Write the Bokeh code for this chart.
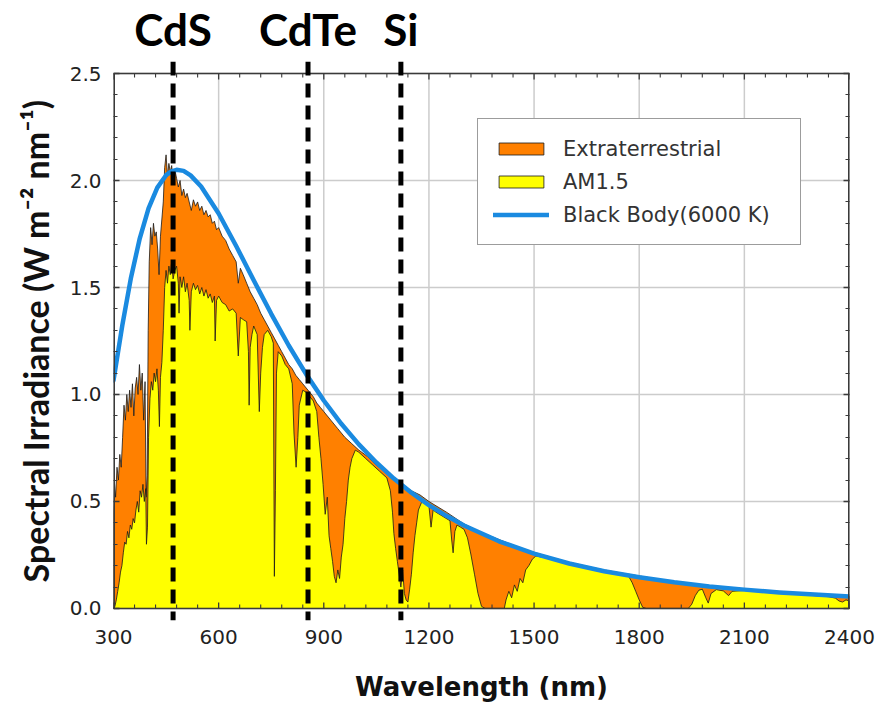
from bokeh.plotting import figure
from bokeh.layouts import column
from bokeh.models import (LinearAxis, FixedTicker, NumeralTickFormatter,
                          Legend, LegendItem, Range1d)
from bokeh.core.properties import value
from bokeh.embed import file_html
from bokeh.resources import INLINE

# ---- axis ticks -----------------------------------------------------------
x_ticks = [300, 600, 900, 1200, 1500, 1800, 2100, 2400]
y_ticks = [0.0, 0.5, 1.0, 1.5, 2.0, 2.5]

# ---- extraterrestrial (AM0) spectrum, W m-2 nm-1 ---------------------------
am0_nm = [300, 303, 306, 310, 314, 318, 322, 326, 330, 334, 338, 342, 346, 350,
          354, 358, 362, 366, 370, 374, 378, 382, 386, 390, 393, 396, 399, 402,
          406, 410, 414, 418, 422, 426, 430, 434, 438, 442, 446, 450, 454, 458,
          462, 466, 470, 475, 480, 485, 490, 495, 500, 505, 510, 516, 522, 528,
          534, 540, 546, 552, 558, 564, 570, 576, 582, 588, 594, 600, 610, 620,
          630, 640, 650, 656, 662, 670, 680, 690, 700, 710, 720, 730, 740, 750,
          760, 770, 780, 790, 800, 810, 820, 830, 840, 850, 860, 870, 880, 890,
          900, 920, 940, 960, 980, 1000, 1025, 1050, 1075, 1100, 1125, 1150,
          1175, 1200, 1250, 1300, 1350, 1400, 1450, 1500, 1550, 1600, 1650,
          1700, 1750, 1800, 1850, 1900, 1950, 2000, 2100, 2200, 2300, 2400]
am0_val = [0.45, 0.58, 0.52, 0.66, 0.60, 0.72, 0.66, 0.80, 0.95, 0.88, 1.00, 0.92,
           1.02, 0.94, 1.05, 0.90, 1.03, 1.08, 1.00, 1.14, 1.02, 1.10, 0.88, 1.06,
           0.52, 0.62, 1.30, 1.62, 1.78, 1.70, 1.80, 1.74, 1.76, 1.68, 1.56, 1.74,
           1.82, 1.90, 2.06, 2.12, 2.02, 2.08, 2.04, 2.07, 2.00, 2.05, 2.01, 1.97,
           2.00, 1.93, 1.96, 1.92, 1.94, 1.90, 1.86, 1.91, 1.88, 1.90, 1.86, 1.88,
           1.84, 1.86, 1.83, 1.84, 1.80, 1.81, 1.77, 1.78, 1.74, 1.72, 1.68, 1.65,
           1.62, 1.52, 1.59, 1.56, 1.52, 1.48, 1.45, 1.42, 1.38, 1.35, 1.32, 1.29,
           1.26, 1.23, 1.20, 1.17, 1.14, 1.12, 1.09, 1.07, 1.05, 1.03, 1.01, 0.99,
           0.96, 0.94, 0.92, 0.88, 0.84, 0.80, 0.77, 0.74, 0.71, 0.67, 0.64, 0.61,
           0.58, 0.55, 0.53, 0.50, 0.45, 0.395, 0.355, 0.322, 0.29, 0.262, 0.238,
           0.216, 0.197, 0.18, 0.165, 0.152, 0.138, 0.126, 0.115, 0.105, 0.089,
           0.076, 0.065, 0.056]

# ---- terrestrial AM1.5 spectrum, W m-2 nm-1 ---------------------------------
am15_nm = [300, 304, 308, 312, 316, 320, 324, 328, 332, 336, 340, 344, 348, 352,
           356, 360, 364, 368, 372, 376, 380, 384, 388, 392, 394, 397, 400, 404,
           408, 412, 416, 420, 424, 428, 431, 434, 438, 442, 446, 450, 454, 458,
           462, 466, 470, 475, 480, 485, 487, 490, 495, 500, 505, 510, 516, 518,
           522, 528, 534, 540, 546, 552, 558, 564, 570, 576, 582, 588, 590, 594,
           600, 610, 620, 630, 640, 650, 656, 662, 670, 680, 685, 687, 690, 695,
           700, 710, 716, 720, 725, 730, 740, 750, 756, 759, 762, 765, 770, 780,
           790, 800, 810, 815, 821, 826, 830, 840, 850, 860, 870, 880, 886, 892,
           898, 904, 910, 915, 920, 925, 930, 935, 940, 945, 950, 955, 960, 965,
           970, 975, 980, 990, 1000, 1020, 1040, 1060, 1080, 1090, 1096, 1100,
           1105, 1110, 1115, 1120, 1125, 1130, 1135, 1140, 1145, 1150, 1155, 1160,
           1165, 1170, 1180, 1190, 1200, 1206, 1212, 1220, 1240, 1260, 1265, 1269,
           1274, 1280, 1290, 1300, 1310, 1320, 1330, 1340, 1350, 1360, 1415, 1420,
           1428, 1436, 1444, 1452, 1460, 1468, 1476, 1485, 1495, 1505, 1550, 1600,
           1650, 1700, 1750, 1770, 1780, 1790, 1800, 1810, 1820, 1940, 1950, 1960,
           1970, 1980, 1990, 1997, 2005, 2020, 2040, 2055, 2065, 2100, 2150, 2200,
           2250, 2300, 2340, 2360, 2370, 2380, 2390, 2400]
am15_val = [0.00, 0.01, 0.04, 0.08, 0.12, 0.17, 0.20, 0.26, 0.31, 0.30, 0.36, 0.33,
            0.39, 0.37, 0.42, 0.40, 0.46, 0.50, 0.45, 0.55, 0.52, 0.58, 0.50, 0.56,
            0.30, 0.38, 0.80, 0.98, 1.06, 1.02, 1.10, 1.06, 1.12, 1.02, 0.85, 1.08,
            1.15, 1.30, 1.50, 1.58, 1.52, 1.60, 1.56, 1.62, 1.54, 1.58, 1.60, 1.52,
            1.38, 1.55, 1.50, 1.55, 1.48, 1.52, 1.44, 1.30, 1.48, 1.52, 1.49, 1.51,
            1.47, 1.50, 1.46, 1.49, 1.45, 1.47, 1.43, 1.46, 1.25, 1.44, 1.46, 1.43,
            1.42, 1.39, 1.40, 1.38, 1.18, 1.36, 1.35, 1.34, 1.20, 0.95, 1.22, 1.28,
            1.32, 1.28, 0.92, 1.10, 1.22, 1.28, 1.30, 1.27, 1.24, 0.15, 0.55, 1.10,
            1.20, 1.18, 1.14, 1.12, 1.05, 0.82, 0.66, 0.80, 0.95, 1.02, 1.01, 0.99,
            0.97, 0.92, 0.80, 0.70, 0.58, 0.44, 0.52, 0.34, 0.28, 0.22, 0.15, 0.12,
            0.18, 0.14, 0.24, 0.30, 0.42, 0.50, 0.60, 0.66, 0.70, 0.74, 0.73, 0.70,
            0.67, 0.64, 0.61, 0.55, 0.45, 0.35, 0.28, 0.22, 0.16, 0.10, 0.18, 0.07,
            0.04, 0.03, 0.09, 0.16, 0.26, 0.34, 0.40, 0.46, 0.50, 0.49, 0.48, 0.38,
            0.46, 0.45, 0.43, 0.41, 0.32, 0.26, 0.36, 0.39, 0.38, 0.37, 0.33, 0.25,
            0.16, 0.07, 0.01, 0.0, 0.0, 0.04, 0.08, 0.05, 0.11, 0.08, 0.14, 0.12,
            0.18, 0.20, 0.23, 0.245, 0.232, 0.212, 0.193, 0.176, 0.162, 0.15, 0.12,
            0.08, 0.04, 0.005, 0.0, 0.0, 0.02, 0.06, 0.085, 0.09, 0.05, 0.025, 0.07,
            0.088, 0.082, 0.06, 0.08, 0.084, 0.078, 0.072, 0.066, 0.060, 0.055,
            0.048, 0.035, 0.03, 0.04, 0.035]

# ---- 6000 K black body, scaled to the solar peak ---------------------------
bb_nm = [300, 325, 350, 375, 400, 425, 450, 465, 480, 500, 520, 550, 600, 650,
         700, 750, 800, 850, 900, 950, 1000, 1050, 1100, 1150, 1200, 1250, 1300,
         1400, 1500, 1600, 1700, 1800, 1900, 2000, 2100, 2200, 2300, 2400]
bb_val = [1.066, 1.322, 1.547, 1.730, 1.870, 1.967, 2.025, 2.043, 2.050, 2.045,
          2.024, 1.972, 1.846, 1.694, 1.534, 1.377, 1.229, 1.094, 0.972, 0.863,
          0.767, 0.682, 0.607, 0.541, 0.483, 0.433, 0.388, 0.314, 0.256, 0.210,
          0.174, 0.146, 0.122, 0.103, 0.088, 0.075, 0.065, 0.056]

# ---- absorber band-gap markers --------------------------------------------
gap_names = ["CdS", "CdTe", "Si"]
gap_nm = [470, 855, 1120]

AXIS = "#3a3a3a"
TEXT = "#222222"
HEAD_H = 56          # height of the strip holding the material names
PAD = 0.0563         # the frame reaches a little past the box so the markers overhang

x0, x1 = x_ticks[0], x_ticks[-1]
y0, y1 = y_ticks[0], y_ticks[-1]

# ---------------------------------------------------------------- main plot
p = figure(width=878, height=705 - HEAD_H, output_backend="svg", title=None,
           toolbar_location=None, x_range=Range1d(x0, x1),
           y_range=Range1d(y0 - PAD, y1 + PAD),
           min_border_left=113, min_border_right=29, min_border_top=5,
           min_border_bottom=85)
p.background_fill_color = "white"
p.border_fill_color = "white"
p.outline_line_color = None

x_minor = [t + k * 60 for t in x_ticks[:-1] for k in range(1, 5)]
y_minor = [round(t + k * 0.1, 2) for t in y_ticks[:-1] for k in range(1, 5)]
xticker = FixedTicker(ticks=x_ticks, minor_ticks=x_minor)
yticker = FixedTicker(ticks=y_ticks, minor_ticks=y_minor)


def style_axis(ax):
    ax.axis_line_color = None
    ax.major_tick_in = 6
    ax.major_tick_out = 0
    ax.minor_tick_in = 4
    ax.minor_tick_out = 0
    ax.major_tick_line_color = AXIS
    ax.minor_tick_line_color = AXIS
    ax.major_tick_line_width = 1.3
    ax.minor_tick_line_width = 1.1
    ax.major_label_text_font = "DejaVu Sans"
    ax.major_label_text_font_size = "20px"
    ax.major_label_text_color = TEXT


xa = p.xaxis[0]
xa.ticker = xticker
style_axis(xa)
xa.major_tick_in = 0
xa.minor_tick_in = 0
xa.major_label_standoff = 9
xa.axis_label = "Wavelength (nm)"
xa.axis_label_text_font = "DejaVu Sans"
xa.axis_label_text_font_style = "bold"
xa.axis_label_text_font_size = "26px"
xa.axis_label_text_color = "#111111"
xa.axis_label_standoff = 25

ya = p.yaxis[0]
ya.ticker = yticker
ya.formatter = NumeralTickFormatter(format="0.0")
style_axis(ya)
ya.major_label_standoff = 12
ya.axis_label = "Spectral Irradiance (W m\u207b\u00b2 nm\u207b\u00b9)"
ya.axis_label_text_font = "Lato"
ya.axis_label_text_font_style = "bold"
ya.axis_label_text_font_size = "34px"
ya.axis_label_text_color = "#111111"
ya.axis_label_standoff = 11

# mirrored tick marks on the right edge
right = LinearAxis(ticker=FixedTicker(ticks=y_ticks, minor_ticks=y_minor),
                   major_label_overrides={t: "" for t in y_ticks})
style_axis(right)
right.major_label_standoff = 0
p.add_layout(right, "right")

# grid: horizontal lines from the grid model, vertical lines kept inside the box
p.xgrid.grid_line_color = None
p.ygrid.ticker = yticker
p.ygrid.grid_line_color = "#cccccc"
p.ygrid.grid_line_width = 1.5
p.segment(x0=x_ticks, y0=[y0] * len(x_ticks), x1=x_ticks, y1=[y1] * len(x_ticks),
          line_color="#cccccc", line_width=1.5)

# filled spectra, closed down to the baseline
am0_x = [am0_nm[0]] + am0_nm + [am0_nm[-1]]
am0_y = [0.0] + am0_val + [0.0]
am15_x = [am15_nm[0]] + am15_nm + [am15_nm[-1]]
am15_y = [0.0] + am15_val + [0.0]

r_am0 = p.patch(am0_x, am0_y, fill_color="#ff8000", line_color="#1a1a1a",
                line_width=1.0, line_alpha=0.8)
r_am15 = p.patch(am15_x, am15_y, fill_color="#ffff00", line_color="#1a1a1a",
                 line_width=1.0, line_alpha=0.8)
r_bb = p.line(bb_nm, bb_val, line_color="#1a8ae0", line_width=4.5,
              line_cap="round", line_join="round")

# box around the data area
p.segment(x0=[x0, x0], y0=[y0, y1], x1=[x1, x1], y1=[y0, y1],
          line_color=AXIS, line_width=1.5)
p.segment(x0=[x0, x1], y0=[y0, y0], x1=[x0, x1], y1=[y1, y1],
          line_color=AXIS, line_width=3)

# tick marks on the top and bottom edges (pointing into the box)
nx, nm = len(x_ticks), len(x_minor)
for ya_edge, sgn in ((y1, -1), (y0, 1)):
    p.segment(x0=x_ticks, y0=[ya_edge] * nx, x1=x_ticks,
              y1=[ya_edge + sgn * 0.028] * nx, line_color=AXIS, line_width=1.3)
    p.segment(x0=x_minor, y0=[ya_edge] * nm, x1=x_minor,
              y1=[ya_edge + sgn * 0.019] * nm, line_color=AXIS, line_width=1.1)

# dashed band-gap markers, overhanging the box a little at both ends
n = len(gap_nm)
p.segment(x0=gap_nm, y0=[p.y_range.end] * n, x1=gap_nm, y1=[p.y_range.start] * n,
          line_color="black", line_width=5, line_dash="14 8")

legend = Legend(items=[LegendItem(label="Extraterrestrial", renderers=[r_am0]),
                       LegendItem(label="AM1.5", renderers=[r_am15]),
                       LegendItem(label="Black Body(6000 K)", renderers=[r_bb])],
                location=(364, 375), margin=0, padding=15, spacing=4,
                glyph_width=56, glyph_height=15, label_height=29,
                label_width=222, label_standoff=14,
                label_text_font="DejaVu Sans",
                label_text_font_size="21px", label_text_color="#333333",
                border_line_color=AXIS, border_line_width=1.5,
                background_fill_color="white", background_fill_alpha=1.0)
p.add_layout(legend)

# ------------------------------------------------ strip with material names
head = figure(width=878, height=HEAD_H, output_backend="svg", title=None,
              toolbar_location=None, x_range=p.x_range,
              y_range=Range1d(0, HEAD_H), x_axis_type=None, y_axis_type=None,
              min_border_left=113, min_border_right=29, min_border_top=0,
              min_border_bottom=0)
head.grid.visible = False
head.outline_line_color = None
head.background_fill_color = "white"
head.border_fill_color = "white"
head.text(x=gap_nm, y=[28] * n, text=gap_names, text_align="center",
          text_baseline="middle", text_font=value("Lato"),
          text_font_style="bold", text_font_size="44px", text_color="black")

layout = column(head, p, spacing=0)
open("out.html", "w").write(file_html(layout, INLINE))
